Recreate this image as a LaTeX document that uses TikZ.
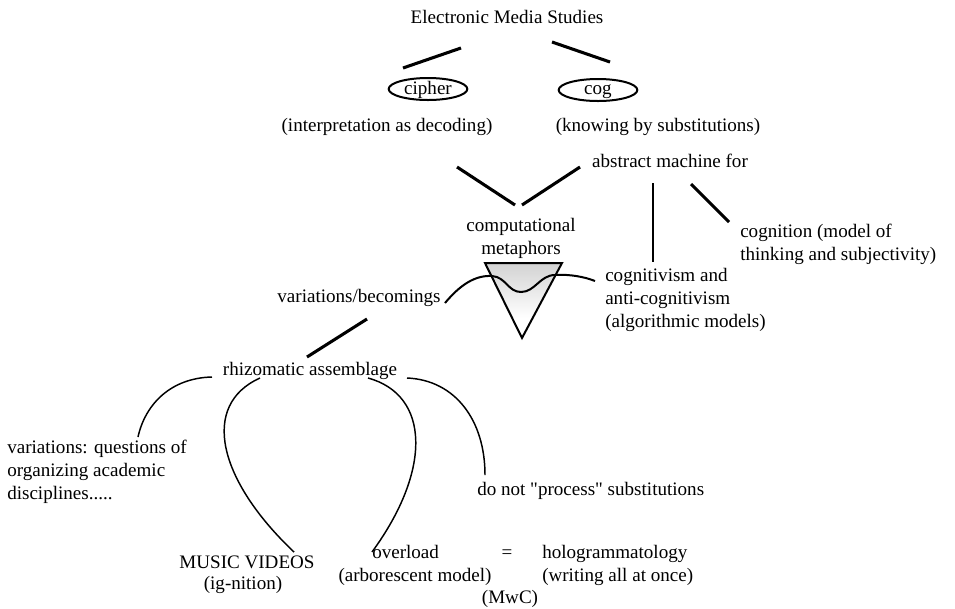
\documentclass[tikz,border=0pt]{standalone}
\usepackage{fontspec}
\setmainfont{Liberation Serif}
\newfontfamily\rawserif{Liberation Serif}[Ligatures=TeXOff]
\usetikzlibrary{shapes.geometric}
\begin{document}
\begin{tikzpicture}[x=0.75pt,y=-0.75pt,
  txt/.style={inner sep=0pt,font=\fontsize{14.3}{17.25}\selectfont},
  lbl/.style={txt,anchor=base},
  lblw/.style={txt,anchor=base west},
  multi/.style={txt,anchor=base west,align=left},
  oval/.style={draw,ellipse,line width=1.5pt,inner sep=0pt,minimum width=59pt,minimum height=16.5pt},
  heavy/.style={line width=2.3pt},
  medium/.style={line width=1.5pt},
  thin/.style={line width=1.1pt}]
\useasboundingbox (0,0) rectangle (955,608);
% texts (multi-line nodes are placed by the baseline of their last line)
\node[lbl] (ems) at (507,23) {Electronic Media Studies};
\node[oval] (cipher) at (428,89) {};
\node[lbl] (cipherlbl) at (428,94) {cipher};
\node[oval] (cog) at (598,90) {};
\node[lbl] (coglbl) at (598,94) {cog};
\node[lbl] (interp) at (387,131) {(interpretation as decoding)};
\node[lbl] (know) at (658,131) {(knowing by substitutions)};
\node[lbl] (abm) at (670,167) {abstract machine for};
\node[lbl,align=center] (comp) at (521,254) {computational\\metaphors};
\node[multi] (cogn) at (740,260) {cognition (model of\\thinking and subjectivity)};
\node[multi] (cogv) at (605,327) {cognitivism and\\anti-cognitivism\\(algorithmic models)};
\node[lbl] (varb) at (359,302) {variations/becomings};
\node[lbl] (rhiz) at (310,375) {rhizomatic assemblage};
\node[multi] (varq) at (7,499) {variations: questions of\\organizing academic\\disciplines.....};
\node[lblw] (dnp) at (477,495) {{\rawserif do not "process" substitutions}};
\node[lbl] (mv) at (247,568) {MUSIC VIDEOS};
\node[lbl] (ign) at (243,589) {(ig-nition)};
\node[lblw] (ovl) at (372,558) {overload};
\node[lbl] (arb) at (415,581) {(arborescent model)};
\node[lbl] (eq) at (507,558) {=};
\node[multi] (holo) at (542,581) {hologrammatology\\(writing all at once)};
\node[lbl] (mwc) at (510,603) {(MwC)};
% connector end points
\coordinate (t1a) at (403,68); \coordinate (t1b) at (461,48);
\coordinate (t2a) at (552,42); \coordinate (t2b) at (610,62);
\coordinate (c1a) at (457,167); \coordinate (c1b) at (515,205);
\coordinate (c2a) at (580,167); \coordinate (c2b) at (522,205);
\coordinate (v1a) at (653,183); \coordinate (v1b) at (653,262);
\coordinate (d1a) at (691,184); \coordinate (d1b) at (729,222);
\coordinate (r1a) at (367,319); \coordinate (r1b) at (307,357);
\coordinate (trl) at (485,263); \coordinate (trr) at (562,263); \coordinate (tra) at (522,338);
% triangle with shading
\begin{scope}
\clip (trl) -- (trr) -- (tra) -- cycle;
\shade[top color=gray!35,bottom color=white] (480,263) rectangle (570,318);
\end{scope}
\draw[medium,line join=miter] (trl) -- (trr) -- (tra) -- cycle;
% wave
\coordinate (w0) at (445,303); \coordinate (w4) at (595,281);
\draw[medium] (w0) .. controls (460,285) and (475,275) .. (492,276)
  .. controls (506,277) and (508,292) .. (521,292)
  .. controls (535,292) and (540,275) .. (555,275)
  .. controls (570,274) and (585,277) .. (w4);
% straight connectors
\draw[heavy] (t1a) -- (t1b);
\draw[heavy] (t2a) -- (t2b);
\draw[heavy] (c1a) -- (c1b);
\draw[heavy] (c2a) -- (c2b);
\draw[medium] (v1a) -- (v1b);
\draw[heavy] (d1a) -- (d1b);
\draw[heavy] (r1a) -- (r1b);
% curves from rhizomatic assemblage
\coordinate (k1a) at (212,377); \coordinate (k1b) at (138,437);
\coordinate (k2a) at (260,378); \coordinate (k2b) at (294,552);
\coordinate (k3a) at (368,378); \coordinate (k3b) at (372,552);
\coordinate (k4a) at (407,378); \coordinate (k4b) at (485,475);
\draw[thin] (k1a) .. controls (170,378) and (145,405) .. (k1b);
\draw[thin] (k2a) .. controls (200,405) and (218,480) .. (k2b);
\draw[thin] (k3a) .. controls (430,395) and (432,470) .. (k3b);
\draw[thin] (k4a) .. controls (455,380) and (485,420) .. (k4b);
\end{tikzpicture}
\end{document}
